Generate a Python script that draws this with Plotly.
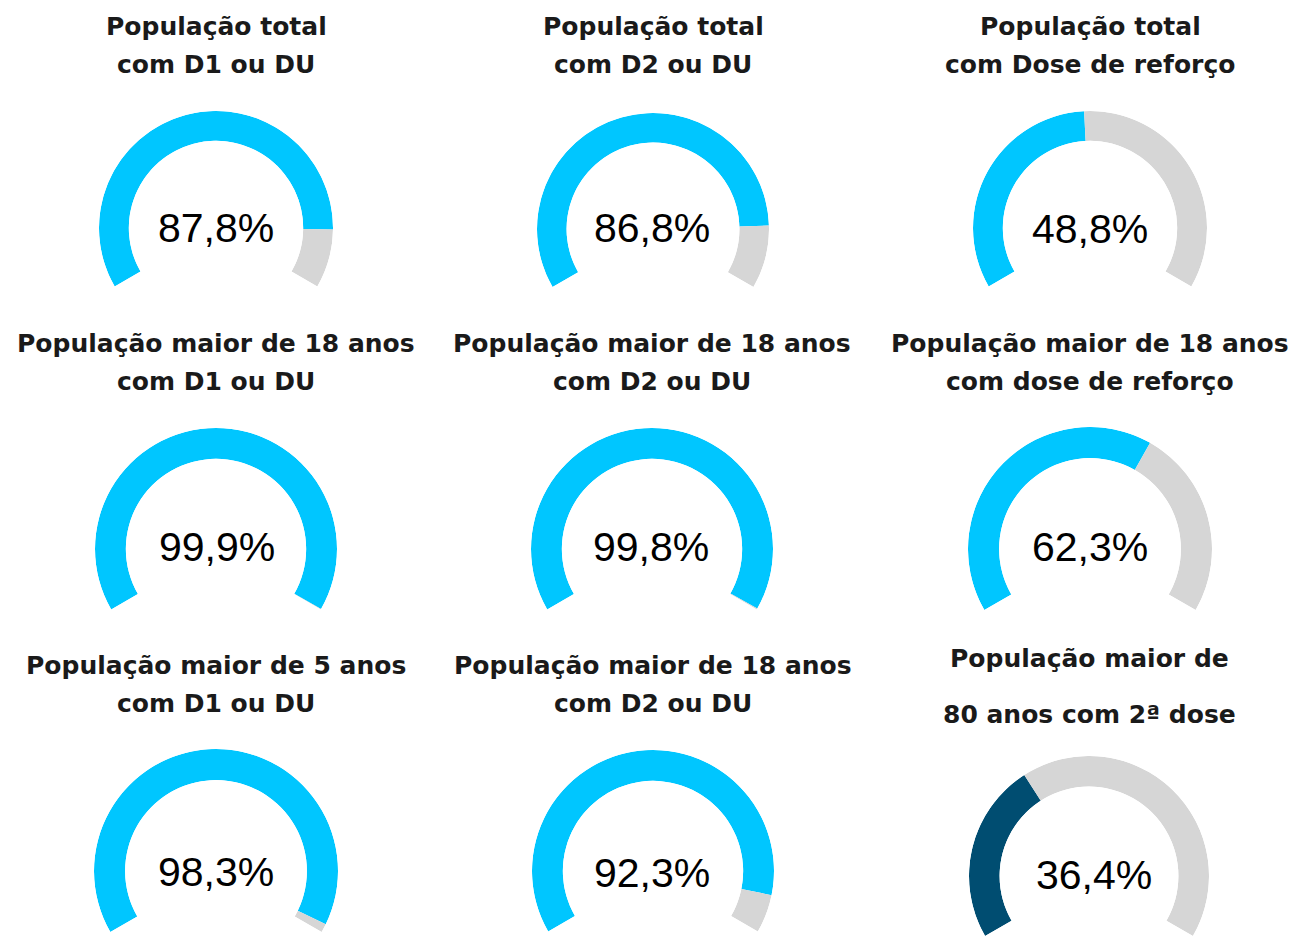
import plotly.graph_objects as go

W, H = 1299, 936
OFF = 8  # default page body margin that the browser adds around the figure

# ---- data ----
title_line1 = [
    "População total", "População total", "População total",
    "População maior de 18 anos", "População maior de 18 anos", "População maior de 18 anos",
    "População maior de 5 anos", "População maior de 18 anos", "População maior de",
]
title_line2 = [
    "com D1 ou DU", "com D2 ou DU", "com Dose de reforço",
    "com D1 ou DU", "com D2 ou DU", "com dose de reforço",
    "com D1 ou DU", "com D2 ou DU", "80 anos com 2ª dose",
]
values = [87.8, 86.8, 48.8, 99.9, 99.8, 62.3, 98.3, 92.3, 36.4]
value_labels = ["87,8%", "86,8%", "48,8%", "99,9%", "99,8%", "62,3%", "98,3%", "92,3%", "36,4%"]

# ---- layout (pixel geometry on the page) ----
centers = [  # (cx, cy, outer radius)
    (216, 228, 117), (653, 229, 116), (1090, 228, 117),
    (216, 549, 121), (652, 549, 121), (1090, 549, 122),
    (216, 871, 122), (653, 871, 121), (1089, 876, 120),
]
label_pos = [
    (216, 228), (652, 228), (1090, 229),
    (217, 547), (651, 547), (1090, 547),
    (216, 872), (652, 873), (1094, 875),
]
title_y = [
    (26, 64), (26, 64), (26, 64),
    (343, 381), (343, 381), (343, 381),
    (665, 703), (665, 703), (658, 714),
]
fill_colors = ["#00C6FF"] * 8 + ["#004D71"]
rest_color = "#D6D6D6"
SPAN = 240.0


def px(x):
    return (x - OFF) / W


def py(y):
    return 1 - (y - OFF) / H


fig = go.Figure()
layout_polars = {}
annotations = []
for i, v in enumerate(values):
    cx, cy, R = centers[i]
    key = "polar" if i == 0 else f"polar{i+1}"
    filled = v / 100 * SPAN
    rest = SPAN - filled
    fig.add_trace(go.Barpolar(
        r=[1, 1],
        theta=[filled / 2, filled + rest / 2],
        width=[filled, rest],
        marker=dict(color=[fill_colors[i], rest_color], line=dict(width=0)),
        subplot=key, showlegend=False, hoverinfo="skip",
    ))
    layout_polars[key] = dict(
        domain=dict(x=[max(0, px(cx - R)), min(1, px(cx + R))],
                    y=[max(0, py(cy + 0.5 * R)), min(1, py(cy - R))]),
        sector=[-30, 210],
        hole=0.745,
        bgcolor="rgba(0,0,0,0)",
        radialaxis=dict(visible=False, range=[0, 1]),
        angularaxis=dict(visible=False, rotation=210, direction="clockwise",
                         thetaunit="degrees"),
    )
    lx, ly = label_pos[i]
    annotations.append(dict(
        x=px(lx), y=py(ly), xref="paper", yref="paper",
        text=value_labels[i], showarrow=False, xanchor="center", yanchor="middle",
        font=dict(family="Liberation Sans, Arial", size=41, color="#000000"),
    ))
    for line_text, ty in zip((title_line1[i], title_line2[i]), title_y[i]):
        annotations.append(dict(
            x=px(cx), y=py(ty), xref="paper", yref="paper",
            text=line_text, showarrow=False, xanchor="center", yanchor="middle",
            font=dict(family="DejaVu Sans", size=25, weight="bold", color="#1A1A1A"),
        ))

fig.update_layout(
    width=W, height=H,
    margin=dict(l=0, r=0, t=0, b=0),
    paper_bgcolor="white", plot_bgcolor="white",
    annotations=annotations,
    **layout_polars,
)
fig.write_html("out.html")
